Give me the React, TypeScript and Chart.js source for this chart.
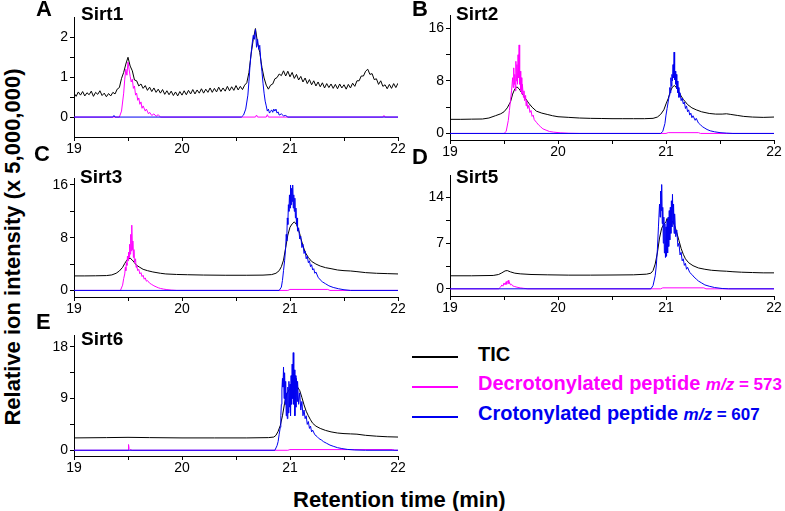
import React, { useEffect, useRef } from "react";
import { Chart, registerables } from "chart.js";

Chart.register(...registerables);

type Pt = [number, number];

const FONT = '"Liberation Sans", Arial, Helvetica, sans-serif';
const TIC_COLOR = "#000000";
const DECROT_COLOR = "#ff00ff";
const CROTON_COLOR = "#0000f0";

// x axis (retention time, min)
const xMajorTicks = [19, 20, 21, 22];
const xMinorTicks = [19.5, 20.5, 21.5];

// y axis ticks per panel
const sirt1YMajor = [0, 1, 2];
const sirt1YMinor = [0.5, 1.5];
const sirt2YMajor = [0, 8, 16];
const sirt2YMinor = [4, 12];
const sirt3YMajor = [0, 8, 16];
const sirt3YMinor = [4, 12];
const sirt5YMajor = [0, 7, 14];
const sirt5YMinor = [3.5, 10.5];
const sirt6YMajor = [0, 9, 18];
const sirt6YMinor = [4.5, 13.5];

// ---------- Sirt1 ----------
const sirt1Tic: Pt[] = [
  [19.0, 0.6], [19.02, 0.52], [19.04, 0.63], [19.06, 0.55], [19.08, 0.64], [19.1, 0.53], [19.12, 0.61], [19.14, 0.56],
  [19.16, 0.65], [19.18, 0.52], [19.2, 0.62], [19.22, 0.57], [19.24, 0.66], [19.26, 0.54], [19.28, 0.6], [19.3, 0.51],
  [19.32, 0.59], [19.34, 0.53], [19.36, 0.62], [19.38, 0.58], [19.4, 0.7], [19.42, 0.74], [19.44, 0.97], [19.46, 1.12],
  [19.48, 1.33], [19.5, 1.5], [19.52, 1.28], [19.54, 1.16], [19.56, 0.93], [19.58, 0.91], [19.6, 0.78], [19.62, 0.83],
  [19.64, 0.72], [19.66, 0.79], [19.68, 0.67], [19.7, 0.75], [19.72, 0.64], [19.74, 0.73], [19.76, 0.62], [19.78, 0.7],
  [19.8, 0.6], [19.82, 0.69], [19.84, 0.57], [19.86, 0.66], [19.88, 0.56], [19.9, 0.65], [19.92, 0.54], [19.94, 0.63],
  [19.96, 0.53], [19.98, 0.64], [20.0, 0.55], [20.02, 0.66], [20.04, 0.56], [20.06, 0.67], [20.08, 0.58], [20.1, 0.69],
  [20.12, 0.58], [20.14, 0.68], [20.16, 0.6], [20.18, 0.71], [20.2, 0.6], [20.22, 0.7], [20.24, 0.62], [20.26, 0.73],
  [20.28, 0.62], [20.3, 0.72], [20.32, 0.63], [20.34, 0.75], [20.36, 0.64], [20.38, 0.73], [20.4, 0.65], [20.42, 0.77],
  [20.44, 0.66], [20.46, 0.76], [20.48, 0.67], [20.5, 0.79], [20.52, 0.68], [20.54, 0.77], [20.56, 0.69], [20.58, 0.8],
  [20.6, 0.86], [20.62, 1.12], [20.64, 1.58], [20.66, 1.95], [20.68, 2.22], [20.7, 1.85], [20.72, 1.62], [20.74, 1.25],
  [20.76, 0.98], [20.78, 0.8], [20.8, 0.7], [20.82, 0.8], [20.84, 0.83], [20.86, 0.96], [20.88, 0.99], [20.9, 1.08],
  [20.92, 1.04], [20.94, 1.16], [20.96, 1.03], [20.98, 1.15], [21.0, 1.01], [21.02, 1.12], [21.04, 0.97], [21.06, 1.07],
  [21.08, 0.93], [21.1, 1.02], [21.12, 0.88], [21.14, 0.98], [21.16, 0.84], [21.18, 0.94], [21.2, 0.81], [21.22, 0.91],
  [21.24, 0.78], [21.26, 0.88], [21.28, 0.76], [21.3, 0.86], [21.32, 0.73], [21.34, 0.84], [21.36, 0.74], [21.38, 0.83],
  [21.4, 0.72], [21.42, 0.82], [21.44, 0.71], [21.46, 0.83], [21.48, 0.73], [21.5, 0.81], [21.52, 0.7], [21.54, 0.82],
  [21.56, 0.73], [21.58, 0.85], [21.6, 0.77], [21.62, 0.91], [21.64, 0.91], [21.66, 1.03], [21.68, 1.03], [21.7, 1.15],
  [21.72, 1.2], [21.74, 1.07], [21.76, 1.09], [21.78, 0.94], [21.8, 0.96], [21.82, 0.82], [21.84, 0.91], [21.86, 0.77],
  [21.88, 0.81], [21.9, 0.71], [21.92, 0.82], [21.94, 0.72], [21.96, 0.84], [21.98, 0.74], [22.0, 0.85],
];
const sirt1Decrot: Pt[] = [
  [19, 0], [19.42, 0], [19.44, 0.15], [19.46, 0.6], [19.47, 0.95], [19.48, 1.2], [19.49, 1.05], [19.5, 1.38],
  [19.51, 1.2], [19.52, 1.02], [19.53, 0.88], [19.54, 0.95], [19.55, 0.72], [19.56, 0.78], [19.57, 0.55], [19.58, 0.6],
  [19.59, 0.42], [19.6, 0.48], [19.61, 0.32], [19.62, 0.38], [19.63, 0.22], [19.64, 0.28], [19.66, 0.15], [19.67, 0.2],
  [19.69, 0.08], [19.7, 0.12], [19.72, 0.04], [19.74, 0.08], [19.76, 0.02], [19.78, 0.06], [19.8, 0], [20.68, 0],
  [20.69, 0.05], [20.7, 0], [20.78, 0], [20.79, 0.06], [20.8, 0], [21.86, 0], [21.87, 0.04], [21.88, 0], [22, 0],
];
const sirt1Croton: Pt[] = [
  [19, 0], [19.36, 0], [19.37, 0.04], [19.38, 0], [20.55, 0], [20.57, 0.05], [20.59, 0.2], [20.61, 0.55],
  [20.62, 0.9], [20.63, 1.3], [20.64, 1.6], [20.65, 1.85], [20.66, 2.05], [20.67, 1.95], [20.68, 2.2], [20.69, 1.75],
  [20.7, 1.95], [20.71, 1.7], [20.72, 1.8], [20.73, 1.4], [20.74, 1.15], [20.75, 0.85], [20.76, 0.6], [20.77, 0.4],
  [20.78, 0.28], [20.79, 0.15], [20.8, 0.2], [20.81, 0.1], [20.82, 0.14], [20.83, 0.18], [20.84, 0.12], [20.85, 0.2],
  [20.86, 0.15], [20.87, 0.2], [20.88, 0.1], [20.89, 0.13], [20.9, 0.05], [20.92, 0.08], [20.94, 0.03], [20.96, 0.04],
  [20.98, 0], [22, 0],
];

// ---------- Sirt2 ----------
const sirt2Tic: Pt[] = [
  [19, 2.15], [19.1, 2.15], [19.2, 2.18], [19.3, 2.2], [19.36, 2.35], [19.42, 2.7], [19.47, 3.0], [19.5, 3.3],
  [19.53, 3.9], [19.56, 4.8], [19.58, 6.0], [19.6, 6.8], [19.62, 7.1], [19.64, 6.8], [19.66, 6.3], [19.68, 5.8],
  [19.7, 5.3], [19.73, 4.6], [19.76, 4.0], [19.8, 3.4], [19.85, 3.1], [19.9, 2.9], [19.95, 2.7], [20.0, 2.55],
  [20.1, 2.45], [20.2, 2.35], [20.3, 2.3], [20.4, 2.28], [20.5, 2.25], [20.6, 2.25], [20.7, 2.25], [20.8, 2.25],
  [20.88, 2.3], [20.92, 2.5], [20.95, 2.9], [20.98, 3.6], [21.0, 4.5], [21.02, 5.3], [21.04, 6.4], [21.06, 7.1],
  [21.08, 7.3], [21.1, 6.9], [21.12, 6.3], [21.14, 5.7], [21.16, 5.2], [21.18, 4.8], [21.2, 4.4], [21.24, 3.9],
  [21.28, 3.6], [21.33, 3.3], [21.4, 3.05], [21.46, 2.95], [21.52, 2.95], [21.56, 3.0], [21.6, 2.9], [21.66, 2.75],
  [21.72, 2.6], [21.8, 2.5], [21.9, 2.45], [22, 2.5],
];
const sirt2Decrot: Pt[] = [
  [19, 0], [19.5, 0], [19.52, 0.3], [19.54, 2], [19.55, 3.5], [19.56, 5], [19.57, 6.5], [19.58, 8.5],
  [19.585, 7], [19.59, 10], [19.595, 7.5], [19.6, 9], [19.605, 6.5], [19.61, 11], [19.615, 8], [19.62, 10.5],
  [19.625, 7.5], [19.63, 12], [19.635, 8.5], [19.64, 13.5], [19.645, 7.5], [19.65, 9.5], [19.655, 6.5], [19.66, 8.5],
  [19.665, 6], [19.67, 7.5], [19.68, 5.5], [19.685, 6.5], [19.69, 5], [19.7, 5.8], [19.705, 4.2], [19.71, 5],
  [19.72, 3.8], [19.73, 4.3], [19.74, 3.2], [19.75, 3.5], [19.76, 2.6], [19.77, 2.8], [19.78, 2.1], [19.8, 1.7],
  [19.82, 1.3], [19.84, 1.0], [19.86, 0.7], [19.89, 0.5], [19.92, 0.3], [19.96, 0.2], [20.02, 0.1], [20.1, 0.03],
  [20.2, 0], [21.0, 0], [21.02, 0.12], [21.3, 0.12], [21.32, 0], [22, 0],
];
const sirt2Croton: Pt[] = [
  [19, 0], [20.95, 0], [20.97, 0.3], [20.99, 1.5], [21.0, 2.8], [21.01, 3.8], [21.02, 4.8], [21.03, 5.8],
  [21.035, 7], [21.04, 6.2], [21.045, 8.5], [21.05, 7.2], [21.055, 9], [21.06, 8], [21.065, 10.5], [21.07, 8.5],
  [21.075, 12.4], [21.08, 8.2], [21.085, 9.5], [21.09, 7.5], [21.095, 9], [21.1, 6.8], [21.105, 8], [21.11, 6.2],
  [21.115, 7], [21.12, 5.5], [21.13, 6.2], [21.14, 5], [21.15, 5.4], [21.16, 4.5], [21.17, 4.8], [21.18, 3.8],
  [21.19, 4.2], [21.2, 3.3], [21.21, 3.6], [21.22, 2.8], [21.23, 3.1], [21.24, 2.4], [21.25, 2.7], [21.27, 2.0],
  [21.28, 2.3], [21.3, 1.6], [21.32, 1.3], [21.34, 1.0], [21.36, 0.8], [21.38, 0.6], [21.41, 0.4], [21.45, 0.25],
  [21.5, 0.12], [21.56, 0.05], [21.62, 0], [22, 0],
];

// ---------- Sirt3 ----------
const sirt3Tic: Pt[] = [
  [19, 2.2], [19.1, 2.2], [19.2, 2.22], [19.3, 2.25], [19.35, 2.35], [19.39, 2.6], [19.42, 2.95], [19.45, 3.5],
  [19.47, 4.1], [19.49, 4.6], [19.5, 4.8], [19.52, 4.9], [19.54, 4.6], [19.56, 4.2], [19.58, 3.8], [19.61, 3.5],
  [19.64, 3.2], [19.68, 3.0], [19.73, 2.8], [19.8, 2.6], [19.85, 2.5], [19.95, 2.42], [20.05, 2.38], [20.2, 2.33],
  [20.4, 2.3], [20.6, 2.3], [20.75, 2.32], [20.83, 2.4], [20.87, 2.6], [20.9, 3.0], [20.92, 3.6], [20.94, 4.6],
  [20.96, 6.5], [20.98, 8.4], [21.0, 9.6], [21.02, 10.1], [21.04, 10.4], [21.06, 10.0], [21.07, 9.6], [21.09, 8.6],
  [21.1, 7.9], [21.12, 6.8], [21.14, 5.8], [21.17, 5.0], [21.2, 4.4], [21.24, 4.0], [21.28, 3.7], [21.33, 3.45],
  [21.38, 3.3], [21.44, 3.1], [21.5, 3.0], [21.56, 2.95], [21.62, 2.85], [21.7, 2.7], [21.8, 2.6], [21.9, 2.55],
  [22, 2.5],
];
const sirt3Decrot: Pt[] = [
  [19, 0], [19.43, 0], [19.45, 0.8], [19.46, 1.8], [19.47, 2.5], [19.475, 3.5], [19.48, 3.0], [19.485, 4.2],
  [19.49, 3.8], [19.495, 5.2], [19.5, 4.5], [19.505, 5.8], [19.51, 5.0], [19.515, 7.0], [19.52, 5.5], [19.525, 8.5],
  [19.53, 6.0], [19.535, 9.9], [19.54, 6.2], [19.545, 7.5], [19.55, 5.0], [19.555, 6.2], [19.56, 4.2], [19.57, 4.8],
  [19.575, 3.5], [19.58, 3.8], [19.59, 3.0], [19.6, 3.2], [19.61, 2.5], [19.62, 2.7], [19.63, 2.1], [19.64, 2.3],
  [19.65, 1.7], [19.66, 1.9], [19.67, 1.4], [19.68, 1.5], [19.7, 1.1], [19.72, 0.9], [19.74, 0.7], [19.76, 0.55],
  [19.78, 0.4], [19.8, 0.3], [19.83, 0.2], [19.86, 0.12], [19.9, 0.05], [19.95, 0], [20.98, 0], [21.0, 0.15],
  [21.35, 0.15], [21.37, 0], [22, 0],
];
const sirt3Croton: Pt[] = [
  [19, 0], [20.9, 0], [20.92, 0.5], [20.93, 1.5], [20.94, 3.0], [20.95, 4.5], [20.96, 6.5], [20.965, 8.5],
  [20.97, 7.5], [20.975, 11], [20.98, 10], [20.985, 13], [20.99, 12], [20.995, 14.5], [21.0, 12.5], [21.005, 16],
  [21.01, 13], [21.015, 15.5], [21.02, 13.5], [21.025, 16], [21.03, 12.5], [21.035, 14.5], [21.04, 12], [21.045, 14],
  [21.05, 11], [21.055, 12.5], [21.06, 10], [21.065, 11], [21.07, 9], [21.08, 9.5], [21.09, 7.8], [21.1, 8.2],
  [21.11, 6.5], [21.12, 7], [21.13, 5.6], [21.14, 6], [21.15, 4.8], [21.16, 5.2], [21.17, 4.2], [21.18, 4.5],
  [21.19, 3.6], [21.2, 3.9], [21.21, 3.1], [21.22, 3.3], [21.23, 2.6], [21.24, 2.8], [21.26, 2.0], [21.28, 1.6],
  [21.3, 1.3], [21.33, 1.0], [21.36, 0.7], [21.4, 0.45], [21.45, 0.25], [21.5, 0.1], [21.56, 0], [22, 0],
];

// ---------- Sirt5 ----------
const sirt5Tic: Pt[] = [
  [19, 2.0], [19.2, 2.0], [19.4, 2.05], [19.45, 2.2], [19.48, 2.45], [19.51, 2.75], [19.53, 2.8], [19.56, 2.6],
  [19.6, 2.4], [19.65, 2.3], [19.75, 2.2], [19.9, 2.15], [20.1, 2.1], [20.3, 2.1], [20.5, 2.12], [20.7, 2.15],
  [20.82, 2.25], [20.86, 2.4], [20.88, 2.8], [20.9, 3.8], [20.92, 5.5], [20.94, 7.8], [20.96, 9.3], [20.98, 9.9],
  [21.0, 10.3], [21.01, 10.8], [21.02, 10.2], [21.03, 9.8], [21.05, 10.0], [21.06, 10.4], [21.07, 10.1], [21.09, 9.2],
  [21.1, 8.6], [21.12, 7.4], [21.14, 6.2], [21.16, 5.3], [21.18, 4.6], [21.21, 4.0], [21.25, 3.55], [21.3, 3.2],
  [21.36, 3.0], [21.42, 2.85], [21.5, 2.75], [21.56, 2.7], [21.62, 2.62], [21.7, 2.55], [21.8, 2.5], [21.9, 2.45],
  [22, 2.45],
];
const sirt5Decrot: Pt[] = [
  [19, 0], [19.45, 0], [19.47, 0.3], [19.48, 0.6], [19.49, 0.4], [19.5, 0.9], [19.51, 0.6], [19.52, 1.1],
  [19.525, 0.7], [19.53, 1.0], [19.54, 1.3], [19.545, 0.8], [19.55, 1.0], [19.56, 0.6], [19.57, 0.7], [19.58, 0.45],
  [19.6, 0.35], [19.62, 0.25], [19.65, 0.15], [19.68, 0.08], [19.72, 0], [20.95, 0], [20.97, 0.15], [21.35, 0.15],
  [21.37, 0], [22, 0],
];
const sirt5Croton: Pt[] = [
  [19, 0], [20.86, 0], [20.88, 0.5], [20.9, 2.0], [20.91, 3.5], [20.92, 6], [20.93, 9.5], [20.94, 13],
  [20.945, 11], [20.95, 15], [20.955, 12], [20.96, 16], [20.965, 10], [20.97, 12.5], [20.975, 7], [20.98, 11],
  [20.985, 5.5], [20.99, 10], [20.995, 4.8], [21.0, 9.5], [21.005, 5], [21.01, 10.5], [21.015, 5.5], [21.02, 11],
  [21.025, 6.5], [21.03, 12], [21.035, 7.5], [21.04, 12.5], [21.045, 8.5], [21.05, 13.5], [21.055, 9.5], [21.06, 14.5],
  [21.065, 10], [21.07, 13], [21.075, 8.5], [21.08, 11.5], [21.09, 8], [21.1, 9], [21.11, 6.5], [21.12, 7],
  [21.13, 5.2], [21.14, 5.6], [21.15, 4.3], [21.16, 4.6], [21.17, 3.6], [21.18, 3.9], [21.19, 3.0], [21.2, 3.3],
  [21.22, 2.5], [21.24, 2.2], [21.26, 1.8], [21.28, 1.5], [21.3, 1.2], [21.33, 0.9], [21.36, 0.6], [21.4, 0.4],
  [21.45, 0.2], [21.52, 0.05], [21.58, 0], [22, 0],
];

// ---------- Sirt6 ----------
const sirt6Tic: Pt[] = [
  [19, 2.15], [19.3, 2.2], [19.5, 2.25], [19.7, 2.2], [20.0, 2.15], [20.3, 2.15], [20.6, 2.15], [20.8, 2.2],
  [20.85, 2.3], [20.87, 2.6], [20.89, 3.3], [20.91, 4.3], [20.93, 6.0], [20.95, 8.2], [20.97, 9.8], [20.99, 10.5],
  [21.01, 10.9], [21.03, 11.1], [21.05, 11.3], [21.07, 11.0], [21.09, 10.4], [21.11, 9.2], [21.13, 7.9], [21.15, 6.8],
  [21.17, 6.0], [21.19, 5.3], [21.21, 4.7], [21.24, 4.2], [21.28, 3.8], [21.33, 3.45], [21.38, 3.2], [21.44, 3.0],
  [21.5, 2.9], [21.56, 2.85], [21.62, 2.8], [21.7, 2.6], [21.8, 2.45], [21.9, 2.35], [22, 2.3],
];
const sirt6Decrot: Pt[] = [
  [19, 0], [19.5, 0], [19.505, 1.0], [19.51, 0.3], [19.52, 0.1], [19.54, 0], [20.98, 0], [21.0, 0.12],
  [21.95, 0.12], [21.97, 0], [22, 0],
];
const sirt6Croton: Pt[] = [
  [19, 0], [20.86, 0], [20.88, 0.8], [20.89, 1.5], [20.9, 2.8], [20.91, 4], [20.915, 6], [20.92, 8],
  [20.925, 10.5], [20.93, 12.5], [20.935, 11], [20.94, 14.5], [20.945, 9], [20.95, 13.5], [20.955, 8], [20.96, 12],
  [20.965, 6], [20.97, 10], [20.975, 5.5], [20.98, 11], [20.985, 6.5], [20.99, 12], [20.995, 7.5], [21.0, 11.5],
  [21.005, 6], [21.01, 13], [21.015, 8], [21.02, 15], [21.025, 9], [21.03, 17], [21.035, 8], [21.04, 14],
  [21.045, 6], [21.05, 13], [21.055, 7.5], [21.06, 12.5], [21.065, 8.5], [21.07, 12], [21.08, 8], [21.09, 10],
  [21.1, 7], [21.11, 8.5], [21.12, 6], [21.13, 7], [21.14, 5.5], [21.15, 6], [21.16, 4.5], [21.17, 5],
  [21.18, 3.8], [21.19, 4.2], [21.2, 3.2], [21.21, 3.5], [21.23, 2.7], [21.25, 2.4], [21.27, 2.0], [21.29, 1.8],
  [21.31, 1.5], [21.34, 1.2], [21.37, 0.9], [21.4, 0.7], [21.44, 0.45], [21.48, 0.3], [21.53, 0.15], [21.6, 0.05],
  [21.7, 0], [22, 0],
];

type PanelCfg = {
  letter: string;
  name: string;
  tic: Pt[];
  decrot: Pt[];
  croton: Pt[];
  yMin: number;
  yMax: number;
  yMajor: number[];
  yMinor: number[];
  area: { l: number; r: number; t: number; b: number };
  letterPos: { left: number; baseline: number };
  namePos: { left: number; baseline: number };
};

const panels: PanelCfg[] = [
  {
    letter: "A", name: "Sirt1", tic: sirt1Tic, decrot: sirt1Decrot, croton: sirt1Croton,
    yMin: -0.5, yMax: 2.5, yMajor: sirt1YMajor, yMinor: sirt1YMinor,
    area: { l: 74, r: 398, t: 17, b: 137 },
    letterPos: { left: 36, baseline: 17 }, namePos: { left: 81, baseline: 20 },
  },
  {
    letter: "B", name: "Sirt2", tic: sirt2Tic, decrot: sirt2Decrot, croton: sirt2Croton,
    yMin: -1, yMax: 18, yMajor: sirt2YMajor, yMinor: sirt2YMinor,
    area: { l: 450, r: 774, t: 15, b: 140 },
    letterPos: { left: 412, baseline: 17 }, namePos: { left: 456, baseline: 20 },
  },
  {
    letter: "C", name: "Sirt3", tic: sirt3Tic, decrot: sirt3Decrot, croton: sirt3Croton,
    yMin: -1, yMax: 17, yMajor: sirt3YMajor, yMinor: sirt3YMinor,
    area: { l: 74, r: 398, t: 178, b: 297 },
    letterPos: { left: 34, baseline: 162 }, namePos: { left: 80, baseline: 183 },
  },
  {
    letter: "D", name: "Sirt5", tic: sirt5Tic, decrot: sirt5Decrot, croton: sirt5Croton,
    yMin: -1.1, yMax: 17.4, yMajor: sirt5YMajor, yMinor: sirt5YMinor,
    area: { l: 450, r: 774, t: 175, b: 296 },
    letterPos: { left: 412, baseline: 165 }, namePos: { left: 456, baseline: 183 },
  },
  {
    letter: "E", name: "Sirt6", tic: sirt6Tic, decrot: sirt6Decrot, croton: sirt6Croton,
    yMin: -1, yMax: 20, yMajor: sirt6YMajor, yMinor: sirt6YMinor,
    area: { l: 74, r: 398, t: 335, b: 456 },
    letterPos: { left: 36, baseline: 330 }, namePos: { left: 81, baseline: 345 },
  },
];

const Y_AXIS_W = 44;
const X_AXIS_H = 22;
const PAD_T = 10;
const PAD_R = 14;
const TICK_FONT = { family: FONT, size: 14 };

function ChartPanel({ p }: { p: PanelCfg }) {
  const ref = useRef<HTMLCanvasElement | null>(null);
  useEffect(() => {
    const canvas = ref.current;
    if (!canvas) return;
    const mk = (pts: Pt[], color: string, label: string) => ({
      label,
      data: pts.map(([x, y]) => ({ x, y })),
      borderColor: color,
      backgroundColor: color,
      borderWidth: 1,
      pointRadius: 0,
      tension: 0,
      fill: false,
    });
    const xAll = [...xMajorTicks, ...xMinorTicks].sort((a, b) => a - b);
    const yAll = [...p.yMajor, ...p.yMinor].sort((a, b) => a - b);
    const chart = new Chart(canvas, {
      type: "line",
      data: {
        datasets: [
          mk(p.croton, CROTON_COLOR, "Crotonylated peptide"),
          mk(p.decrot, DECROT_COLOR, "Decrotonylated peptide"),
          mk(p.tic, TIC_COLOR, "TIC"),
        ],
      },
      options: {
        responsive: false,
        animation: false,
        devicePixelRatio: 1,
        parsing: false,
        events: [],
        layout: { padding: { left: 0, right: PAD_R, top: PAD_T, bottom: 0 } },
        plugins: { legend: { display: false }, tooltip: { enabled: false } },
        scales: {
          x: {
            type: "linear",
            min: 19,
            max: 22,
            afterFit: (s: any) => { s.height = X_AXIS_H; },
            afterBuildTicks: (s: any) => { s.ticks = xAll.map((v) => ({ value: v })); },
            ticks: {
              autoSkip: false, maxRotation: 0, padding: 0, color: "#000", font: TICK_FONT,
              callback: (v: any) => (xMajorTicks.includes(Number(v)) ? String(v) : ""),
            },
            grid: { display: true, drawOnChartArea: false, drawTicks: true, tickLength: 4, color: "#000", lineWidth: 1 },
            border: { display: true, color: "#000", width: 1 },
          },
          y: {
            type: "linear",
            min: p.yMin,
            max: p.yMax,
            afterFit: (s: any) => { s.width = Y_AXIS_W; },
            afterBuildTicks: (s: any) => { s.ticks = yAll.map((v) => ({ value: v })); },
            ticks: {
              autoSkip: false, padding: 2, color: "#000", font: TICK_FONT,
              callback: (v: any) => (p.yMajor.includes(Number(v)) ? String(v) : ""),
            },
            grid: { display: true, drawOnChartArea: false, drawTicks: true, tickLength: 4, color: "#000", lineWidth: 1 },
            border: { display: true, color: "#000", width: 1 },
          },
        },
      } as any,
    });
    return () => chart.destroy();
  }, [p]);
  const left = p.area.l - Y_AXIS_W;
  const top = p.area.t - PAD_T;
  const width = p.area.r + PAD_R - left;
  const height = p.area.b + X_AXIS_H - top;
  return (
    <canvas
      ref={ref}
      width={width}
      height={height}
      style={{ position: "absolute", left, top, width, height }}
    />
  );
}

function Txt({ left, baseline, size, bold = true, color = "#000", children }: any) {
  return (
    <div
      style={{
        position: "absolute",
        left,
        top: baseline - 0.8465 * size,
        fontSize: size,
        lineHeight: `${size}px`,
        fontWeight: bold ? 700 : 400,
        color,
        whiteSpace: "nowrap",
        fontFamily: FONT,
      }}
    >
      {children}
    </div>
  );
}

function LegendRow({ y, baseline, color, children }: any) {
  return (
    <>
      <div style={{ position: "absolute", left: 412, top: y - 0.75, width: 46, height: 1.5, background: color }} />
      <Txt left={478} baseline={baseline} size={20} color={color}>{children}</Txt>
    </>
  );
}

export default function App() {
  return (
    <div
      style={{
        position: "absolute",
        left: 0,
        top: 0,
        width: 785,
        height: 511,
        background: "#fff",
        overflow: "hidden",
        fontFamily: FONT,
      }}
    >
      {panels.map((p) => (
        <ChartPanel key={p.letter} p={p} />
      ))}
      {panels.map((p) => (
        <React.Fragment key={"t" + p.letter}>
          <Txt left={p.letterPos.left} baseline={p.letterPos.baseline} size={22}>{p.letter}</Txt>
          <Txt left={p.namePos.left} baseline={p.namePos.baseline} size={19}>{p.name}</Txt>
        </React.Fragment>
      ))}
      <div
        style={{
          position: "absolute",
          left: 13,
          top: 247,
          transform: "translate(-50%, -50%) rotate(-90deg)",
          whiteSpace: "nowrap",
          fontWeight: 700,
          fontSize: 22,
          lineHeight: "22px",
          fontFamily: FONT,
          color: "#000",
        }}
      >
        Relative ion intensity (x 5,000,000)
      </div>
      <Txt left={293} baseline={508} size={22}>Retention time (min)</Txt>
      <LegendRow y={357} baseline={361} color={TIC_COLOR}>TIC</LegendRow>
      <LegendRow y={387} baseline={390} color={DECROT_COLOR}>
        Decrotonylated peptide <span style={{ fontSize: 17, fontStyle: "italic" }}>m/z</span>
        <span style={{ fontSize: 17 }}> = 573</span>
      </LegendRow>
      <LegendRow y={417} baseline={420} color={CROTON_COLOR}>
        Crotonylated peptide <span style={{ fontSize: 17, fontStyle: "italic" }}>m/z</span>
        <span style={{ fontSize: 17 }}> = 607</span>
      </LegendRow>
    </div>
  );
}
